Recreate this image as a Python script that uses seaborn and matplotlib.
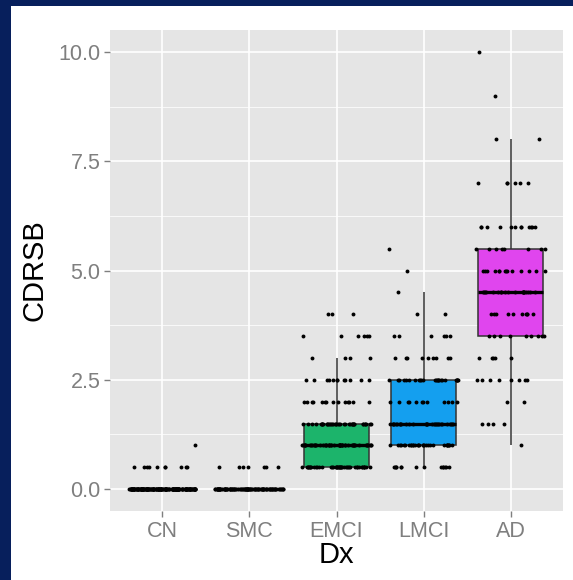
import numpy as np
import pandas as pd
import matplotlib
matplotlib.use("Agg")
import matplotlib.pyplot as plt
from matplotlib.ticker import FixedLocator
import seaborn as sns

# ---- data (value levels and number of subjects at each level) ----
categories = ["CN", "SMC", "EMCI", "LMCI", "AD"]

cn_values = [0.0, 0.5, 1.0]
cn_counts = [170, 10, 1]

smc_values = [0.0, 0.5]
smc_counts = [90, 7]

emci_values = [0.5, 1.0, 1.5, 2.0, 2.5, 3.0, 3.5, 4.0]
emci_counts = [45, 50, 40, 14, 12, 4, 6, 3]

lmci_values = [0.5, 1.0, 1.5, 2.0, 2.5, 3.0, 3.5, 4.0, 4.5, 5.0, 5.5]
lmci_counts = [14, 30, 30, 12, 25, 9, 6, 2, 1, 1, 1]

ad_values = [1.0, 1.5, 2.0, 2.5, 3.0, 3.5, 4.0, 4.5, 5.0, 5.5, 6.0, 7.0, 8.0, 9.0, 10.0]
ad_counts = [1, 4, 2, 8, 5, 9, 10, 20, 14, 8, 12, 6, 2, 1, 1]

y_ticks = [0.0, 2.5, 5.0, 7.5, 10.0]
y_tick_labels = ["0.0", "2.5", "5.0", "7.5", "10.0"]

palette = {"CN": "#F8766D", "SMC": "#A3A500", "EMCI": "#1CB46B",
           "LMCI": "#149FEF", "AD": "#E045EE"}

groups = {
    "CN": (cn_values, cn_counts),
    "SMC": (smc_values, smc_counts),
    "EMCI": (emci_values, emci_counts),
    "LMCI": (lmci_values, lmci_counts),
    "AD": (ad_values, ad_counts),
}
rows = []
for name in categories:
    vals, cnts = groups[name]
    for v, c in zip(vals, cnts):
        rows += [(name, v)] * c
df = pd.DataFrame(rows, columns=["Dx", "CDRSB"])

# ---- figure ----
fig = plt.figure(figsize=(5.73, 5.80), dpi=100)
fig.patch.set_facecolor("#071F5C")

# white slide panel as a background axes
bg = fig.add_axes([11 / 573, 0, 1 - 11 / 573, 1 - 6 / 580], zorder=-10)
bg.set_facecolor("white")
bg.set_xticks([])
bg.set_yticks([])
for s in bg.spines.values():
    s.set_visible(False)

ax = fig.add_axes([110 / 573, 1 - 511 / 580, 453 / 573, 481 / 580], zorder=1)
ax.set_facecolor("#E5E5E5")

font = "Liberation Sans"

sns.boxplot(data=df, x="Dx", y="CDRSB", hue="Dx", order=categories, hue_order=categories,
            palette=palette, saturation=1, width=0.75, showfliers=False, showcaps=False,
            linecolor="#333333", linewidth=1.1, whis=1.5, legend=False,
            medianprops=dict(color="black", linewidth=2.4),
            ax=ax)

np.random.seed(3)
sns.stripplot(data=df, x="Dx", y="CDRSB", order=categories, color="black",
              size=2.8, linewidth=0, jitter=0.4, ax=ax, zorder=5)

ax.set_xlim(-0.6, 4.6)
ax.set_ylim(-0.5, 10.5)
ax.set_yticks(y_ticks)
ax.set_yticklabels(y_tick_labels)
ax.yaxis.set_minor_locator(FixedLocator([1.25, 3.75, 6.25, 8.75]))
ax.set_axisbelow(True)
ax.grid(which="major", color="white", linewidth=1.2)
ax.grid(which="minor", axis="y", color="white", linewidth=0.55)
ax.tick_params(which="major", color="#7F7F7F", length=4, width=1, pad=3,
               labelcolor="#7F7F7F", labelsize=15.5)
ax.tick_params(which="minor", length=0)
for lab in ax.get_xticklabels() + ax.get_yticklabels():
    lab.set_fontfamily(font)
for s in ax.spines.values():
    s.set_visible(False)

ax.set_xlabel("Dx", fontsize=21, color="black", fontfamily=font)
ax.set_ylabel("CDRSB", fontsize=21, color="black", fontfamily=font)
ax.xaxis.set_label_coords(0.5, -0.062)
ax.yaxis.set_label_coords(-0.135, 0.5)

fig.savefig("out.png", dpi=100, facecolor=fig.get_facecolor())
